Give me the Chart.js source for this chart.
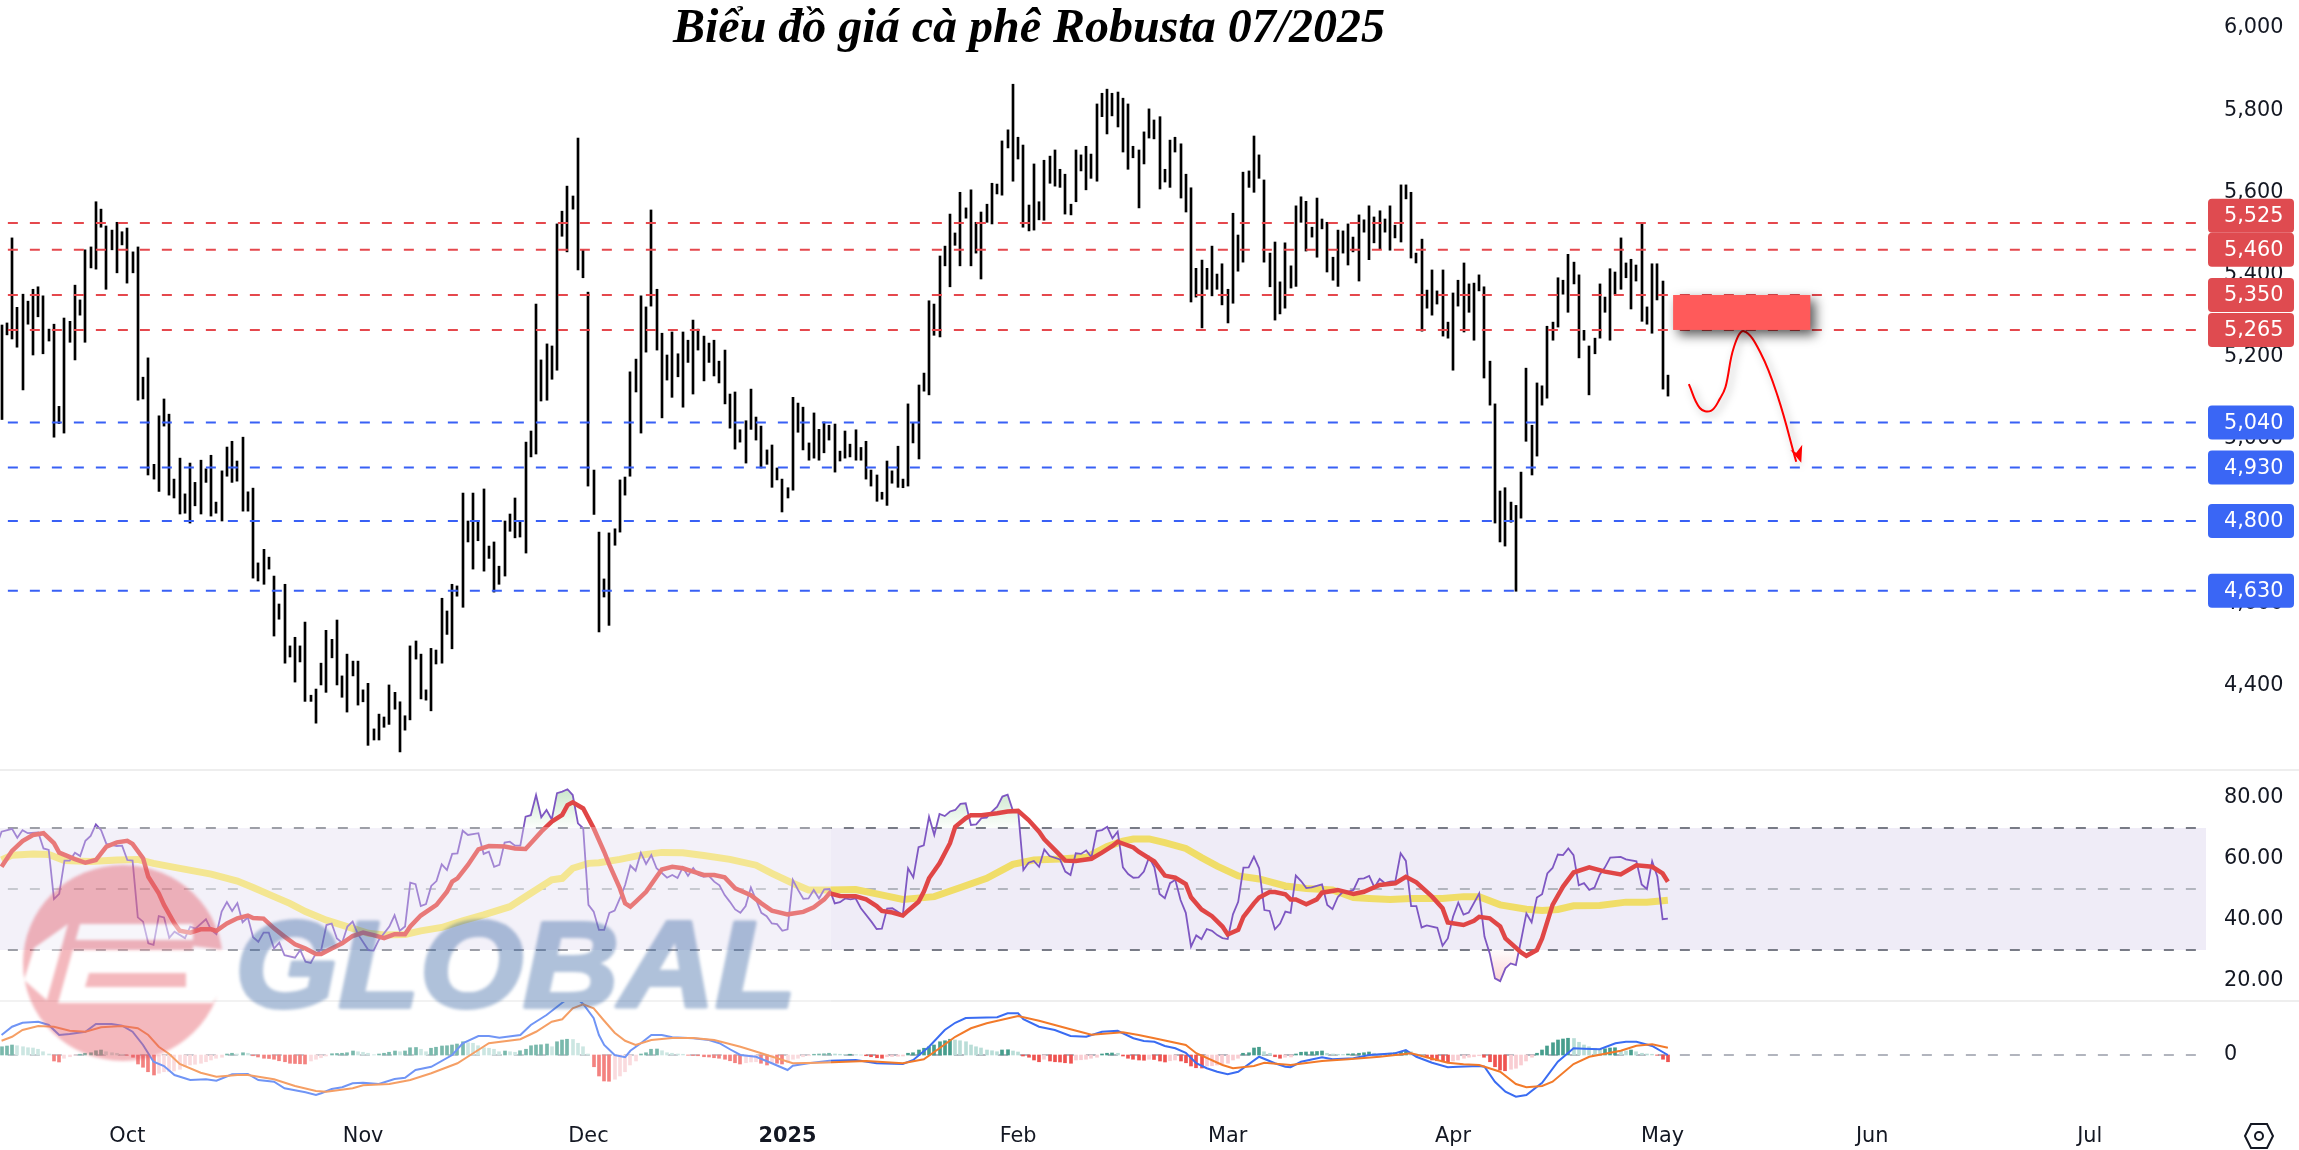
<!DOCTYPE html>
<html lang="vi">
<head>
<meta charset="utf-8">
<title>Biểu đồ giá cà phê Robusta 07/2025</title>
<script src="https://cdn.jsdelivr.net/npm/chart.js@4"></script>
<style>
  html, body { margin: 0; padding: 0; background: #fff; }
  canvas { display: block; }
</style>
</head>
<body>
<canvas id="chart" width="2299" height="1150"></canvas>
<script>
// ── Data ──────────────────────────────────────────────────────────────────────

const titleText = 'Biểu đồ giá cà phê Robusta 07/2025';

// one high/low pair per trading day, index 0 = left edge of the chart
const priceHigh = [
  5277,5282,5489,5320,5352,5335,5364,5370,5348,5267,5279,5079,5294,5286,5374,5338,5460,5467,5577,5559,
  5518,5508,5527,5504,5513,5455,5467,5150,5197,4938,5056,5097,5060,4902,4953,4866,4941,4894,4948,4927,
  4960,4846,4922,4980,4994,4946,5004,4871,4880,4698,4731,4712,4666,4598,4646,4496,4517,4496,4554,4376,
  4391,4454,4534,4512,4559,4423,4476,4459,4459,4389,4405,4294,4330,4323,4401,4383,4360,4326,4496,4508,
  4476,4389,4490,4486,4612,4581,4646,4642,4868,4800,4868,4797,4878,4739,4749,4690,4800,4817,4856,4800,
  4992,5019,5328,5192,5231,5226,5523,5554,5615,5591,5732,5459,5357,4924,4773,4659,4771,4781,4900,4907,
  5163,5194,5348,5321,5557,5364,5257,5204,5260,5207,5260,5240,5289,5267,5250,5233,5240,5189,5216,5109,
  5114,5022,5044,5121,5053,5031,4973,4985,4929,4902,4881,5101,5087,5077,4990,5063,5023,5041,5033,5036,
  4970,5019,4987,5022,4979,4994,4924,4912,4870,4946,4922,4982,4902,5085,5038,5131,5160,5336,5328,5445,
  5469,5547,5501,5600,5562,5606,5527,5552,5571,5622,5620,5725,5752,5863,5734,5715,5569,5669,5577,5678,
  5688,5703,5656,5644,5571,5703,5691,5712,5693,5815,5841,5851,5841,5844,5829,5815,5712,5703,5747,5803,
  5776,5784,5656,5727,5734,5718,5644,5611,5415,5435,5415,5469,5401,5426,5364,5549,5496,5649,5652,5737,
  5691,5630,5452,5479,5382,5477,5421,5567,5589,5578,5515,5586,5535,5527,5442,5508,5506,5523,5491,5545,
  5533,5567,5540,5555,5535,5567,5520,5618,5618,5600,5452,5486,5362,5411,5360,5411,5284,5355,5386,5428,
  5377,5379,5399,5370,5189,5085,4873,4881,4846,4838,4919,5172,5033,5136,5129,5274,5284,5392,5386,5449,
  5430,5399,5264,5226,5245,5377,5345,5414,5406,5489,5428,5437,5423,5525,5321,5426,5426,5384,5155,
];
const priceLow = [
  5047,5253,5243,5223,5119,5279,5204,5297,5207,5238,5004,5037,5014,5235,5192,5301,5235,5416,5413,5515,
  5364,5460,5404,5472,5379,5404,5094,5097,4912,4902,4872,5031,4863,4856,4817,4819,4795,4837,4817,4894,
  4812,4819,4800,4909,4894,4897,4824,4824,4661,4654,4646,4683,4520,4561,4454,4469,4408,4457,4361,4361,
  4308,4401,4383,4467,4401,4371,4335,4423,4352,4360,4254,4267,4267,4298,4305,4342,4238,4291,4316,4464,
  4367,4364,4338,4452,4454,4524,4489,4617,4590,4749,4683,4752,4678,4709,4627,4646,4666,4775,4759,4761,
  4722,4956,4963,5092,5094,5145,5167,5493,5455,5559,5411,5392,4885,4816,4530,4615,4546,4741,4773,4863,
  4909,5114,5014,5211,5323,5216,5051,5143,5101,5151,5077,5186,5109,5216,5141,5186,5153,5136,5085,5026,
  4975,4992,4941,5023,4997,4929,4938,4882,4900,4822,4856,4875,5016,4973,4948,4953,4948,4966,4997,4919,
  4946,4953,4956,4948,4948,4902,4885,4848,4853,4838,4892,4882,4881,4885,4990,4951,5116,5107,5252,5248,
  5421,5370,5471,5421,5537,5421,5452,5389,5527,5523,5596,5593,5708,5627,5681,5515,5506,5508,5533,5532,
  5622,5615,5612,5547,5545,5577,5652,5606,5634,5627,5784,5742,5786,5759,5698,5656,5684,5562,5669,5732,
  5730,5608,5625,5612,5698,5586,5552,5333,5345,5270,5364,5348,5364,5326,5282,5330,5408,5430,5612,5600,
  5634,5430,5370,5289,5304,5318,5367,5371,5527,5457,5491,5442,5511,5406,5386,5371,5452,5423,5455,5384,
  5503,5436,5477,5461,5503,5459,5489,5479,5584,5440,5428,5262,5318,5301,5328,5250,5245,5167,5323,5260,
  5308,5240,5360,5148,5082,4795,4749,4739,4797,4629,4807,4994,4912,4958,5082,5099,5240,5272,5352,5308,
  5377,5197,5240,5107,5207,5245,5308,5240,5352,5364,5392,5316,5384,5286,5279,5257,5338,5121,5104,
];

const priceTicks = [6000, 5800, 5600, 5400, 5200, 5000, 4800, 4600, 4400];
const redLevels  = [5265, 5350, 5460, 5525];
const blueLevels = [4630, 4800, 4930, 5040];

// sell zone and the drawn path below it: [bar index, price]
const zoneTop = 5350, zoneBottom = 5265;
const zoneFrom = 319, zoneTo = 345.2;
const forecastPath = [
  [322,5133],[324.1,5075],[326.2,5068],[328,5099],[329,5126],[330.6,5223],
  [332.5,5262],[335.7,5209],[339,5102],[342.5,4944],
];

// RSI pane: [bar index, value]
const rsiLine = [
  [-1,63.9],[0,68.8],[2,69.7],[3,66.8],[4,69.3],[5,68.3],[7,68.5],[8,63.3],[9,62.8],[10,46.7],[11,48.4],[12,59.3],[13,59.3],
  [14,61.9],[15,60.8],[16,65.8],[17,67.4],[18,71.2],[19,69.3],[20,64.8],[22,64.1],[23,64.2],[24,59.5],[25,59.3],[26,40.7],
  [27,39.3],[28,32.2],[29,31.7],[30,41.1],[31,40.7],[32,34.0],[33,36.0],[35,33.9],[36,37.7],[37,37.0],[39,40.1],[40,36.6],
  [41,35.2],[42,42.6],[43,45.7],[44,42.8],[45,45.4],[46,39.1],[47,40.7],[48,34.2],[49,32.7],[50,35.7],[51,35.7],[52,30.5],
  [53,32.4],[54,28.3],[56,27.5],[57,30],[58,26.2],[59,25.8],[60,28.9],[61,30],[62,38.2],[63,38.7],[64,33.8],[65,32.4],
  [66,37.7],[67,39.3],[68,35.2],[70,30],[71,29.8],[72,33.3],[74,37.7],[75,41.4],[76,36.3],[77,37.7],[78,52.1],[79,51.6],
  [80,44.4],[81,45.1],[82,51],[83,52.6],[84,58.1],[85,56.2],[86,61.5],[87,61.7],[88,69.1],[89,67.7],[91,68.3],[92,61.5],
  [93,62.2],[94,57.3],[95,57.9],[96,65.2],[97,65.5],[98,64.2],[99,64.2],[100,73.7],[101,74.2],[102,80.8],[103,73.5],
  [104,75.9],[105,72.8],[106,81.4],[107,81.9],[108,82.7],[109,80.8],[110,71.5],[111,69.9],[112,44.8],[113,42.6],[114,36.6],
  [115,36.6],[116,42.2],[117,42.9],[118,46.9],[119,51.3],[120,57.7],[121,56],[122,61.9],[123,58.2],[124,61.1],[125,56.8],
  [127,53.7],[128,54.6],[129,53.6],[130,57.1],[131,54.3],[132,56.9],[133,54.6],[134,54],[135,54.3],[136,52.4],[137,51.2],
  [138,48],[139,45.8],[140,43.3],[141,42.2],[142,44.4],[143,50.5],[144,46.4],[145,42.2],[146,41.1],[147,38.7],[148,38.5],
  [149,36.3],[150,36.8],[151,53],[152,49.7],[153,46.8],[154,46.9],[155,49.7],[156,46.9],[157,49.9],[158,50],[159,45.3],
  [160,45.7],[161,46.9],[162,46.6],[163,46.9],[164,43.7],[166,39.3],[167,36.9],[168,37],[169,43.6],[170,43.7],[172,41.5],
  [173,56.8],[174,53.8],[175,63.7],[176,64.3],[177,73.7],[178,67.7],[179,74.6],[180,73.9],[181,75.4],[182,75.9],[183,77.9],
  [184,78.1],[185,71],[186,71.2],[187,73.2],[188,73.4],[189,75.4],[190,77],[191,80.3],[192,80.9],[193,75.7],[194,75.7],
  [195,56.2],[196,58.6],[197,59.2],[198,57.3],[199,63],[200,60.8],[202,59.7],[203,55.7],[204,54.6],[205,61.7],[206,61.5],
  [207,62.6],[208,60.4],[209,69],[210,69.3],[211,70.4],[212,66.6],[213,68.8],[214,57.1],[215,54.9],[216,53.7],[217,53.8],
  [218,55.7],[219,60.4],[220,57.1],[221,48.4],[222,47],[223,51.9],[224,53],[225,46.4],[226,42.2],[227,31.1],[228,34.8],
  [229,33.6],[230,36.9],[231,36.3],[232,34.9],[233,33.9],[234,33.6],[235,41.7],[236,45.8],[237,57],[238,57.1],[239,60.6],
  [240,56.8],[241,43.1],[242,42.8],[243,36.8],[244,38.7],[245,42.6],[246,42.2],[247,54.4],[248,52.6],[249,50.3],[250,50.5],
  [252,51.5],[253,44.8],[254,43.4],[255,47.3],[256,49.1],[257,49.1],[258,49.7],[259,53.3],[260,53.5],[261,54.3],[262,50.5],
  [263,53.3],[264,51.9],[265,52.4],[266,52.6],[267,61.7],[268,59.2],[269,44.4],[270,44.4],[271,37.4],[272,38.1],[273,37.7],
  [274,37.3],[275,31.4],[276,33.8],[277,40.9],[278,45.5],[279,41.6],[280,42.3],[282,48.6],[283,34.4],[284,28.9],[285,20.7],
  [286,19.8],[287,24],[288,25.6],[289,25.1],[290,33.3],[291,42],[292,39.1],[293,47.2],[294,48.3],[295,55.1],[296,56.9],
  [297,61.3],[298,61.1],[299,63.3],[300,61.1],[301,51.2],[302,51.9],[303,49.7],[304,50.5],[305,54.7],[306,57.1],[307,60.3],
  [309,60.5],[310,59.7],[312,59.1],[313,51.5],[314,50],[315,59.1],[316,54],[317,40.1],[318,40.3],
];
const rsiSignal = [
  [0,57.3],[2,62.5],[4,65.7],[6,67.7],[8,68.3],[10,65],[11,61.9],[14,59.8],[16,58.6],[18,59.5],[20,63.9],[22,65.3],[24,65.8],
  [25,64.8],[27,60.1],[28,54],[30,48.6],[31,44.8],[33,38.7],[34,36.3],[36,35.7],[38,36.8],[40,36.8],[41,36.3],[43,38.7],
  [45,40.4],[47,41.3],[48,40.5],[50,40.3],[52,37.1],[54,34.4],[56,31.9],[58,30.5],[60,28.7],[61,28.7],[63,30.5],[65,32.2],
  [67,34.6],[69,35.7],[71,34.9],[73,33.9],[75,35.2],[77,35.2],[78,37.7],[80,41.3],[83,44.8],[85,49.1],[86,52.4],[87,53.5],
  [89,57.9],[91,63],[93,64.1],[96,63.9],[98,63.3],[100,63.1],[101,65],[103,68.8],[105,72.1],[107,74.3],[108,77.5],[109,78.4],
  [111,76.4],[113,69.9],[115,62.2],[116,57.9],[118,50.2],[119,45.3],[120,44.2],[121,45.8],[123,49.1],[125,54],[126,56.4],
  [128,57.3],[130,56.8],[132,55.7],[134,54.6],[136,54.6],[138,53.8],[140,50.2],[143,48],[145,45.3],[147,42.9],[150,41.7],
  [153,42.5],[155,44],[157,46.6],[158,48.6],[160,47.7],[163,47.6],[165,46.6],[167,44.4],[168,42.8],[170,42.3],[172,41.3],
  [173,42.9],[175,45.8],[176,49.1],[177,53.5],[179,58.4],[181,65],[182,70.4],[184,73.2],[185,74.2],[187,74.2],[190,74.8],
  [192,75.4],[194,75.6],[196,72.6],[198,68.8],[199,66.3],[201,62.8],[203,59.3],[205,59.2],[208,59.9],[210,61.9],[212,64.1],
  [213,65.5],[216,63.6],[217,62.2],[220,59],[222,54.4],[224,53.7],[226,51.6],[227,47.3],[229,43.3],[231,41.1],[233,37.7],
  [234,35.1],[236,36.6],[237,40.9],[239,45.3],[240,47.2],[242,49],[243,49],[245,48.3],[246,46.6],[247,46.6],[249,45],
  [251,46.6],[252,48.8],[255,49.7],[258,48.4],[260,49.1],[263,51.3],[266,51.9],[268,54],[270,52.2],[273,47.5],[275,43.7],
  [276,39],[279,38.2],[281,39.6],[282,40.9],[284,40.4],[286,37.7],[287,33.8],[290,29.2],[291,28.1],[293,30],[294,33.8],
  [296,44.8],[298,50.8],[300,55.4],[303,57.1],[306,55.7],[309,54.8],[312,57.8],[315,57.3],[317,55.1],[318,52.4],
];
const rsiSlow = [
  [0,59.5],[2,61.1],[6,61.5],[9,61.3],[12,59.3],[17,59],[22,59.5],[26,59.7],[29,58.4],[33,57.1],[40,54.9],[45,52.6],[48,50.5],
  [52,47.5],[55,45.3],[58,42.6],[62,39.8],[67,37.1],[70,35.5],[73,34.9],[77,35.1],[80,36.3],[84,37.4],[88,39.6],[92,41.5],
  [97,44.2],[101,48.6],[105,53],[107,53.5],[109,56.8],[112,58.4],[114,58.6],[118,59.7],[122,61.1],[126,62],[130,61.9],[134,61],
  [139,59.7],[144,57.8],[147,55.1],[151,51.9],[154,49.7],[158,49.7],[163,49.8],[167,48.4],[172,46.6],[178,47.5],[183,50.5],
  [188,53.5],[193,58.1],[197,59.5],[202,59.8],[207,60.4],[211,63.9],[214,65.7],[216,66.4],[219,66.4],[222,65.2],[226,63.3],
  [229,60.3],[232,57.5],[236,54.3],[240,53.3],[245,51],[249,50.2],[254,49.7],[258,47.2],[261,46.9],[265,46.6],[269,46.9],
  [275,46.9],[279,47.5],[282,47.5],[286,44.8],[291,43.4],[294,43],[297,43.3],[300,44.5],[305,44.6],[310,45.7],[314,45.7],[318,46.3],
];
const rsiLevels = [70, 50, 30];
const rsiTicks  = [80, 60, 40, 20];

// MACD pane: [bar index, value]
const macdLine = [
  [0,80],[2,113],[4,129],[7,133],[9,120],[11,80],[13,84],[16,93],[18,124],[21,124],[23,117],[25,93],[27,40],[29,-27],[31,-44],
  [33,-80],[36,-100],[39,-97],[41,-103],[44,-77],[47,-76],[49,-100],[52,-107],[54,-133],[58,-149],[60,-160],[61,-153],[63,-136],
  [65,-129],[67,-113],[69,-111],[72,-116],[75,-96],[77,-91],[79,-60],[82,-47],[86,0],[88,47],[91,76],[93,76],[95,69],[99,80],
  [101,120],[104,160],[107,209],[109,240],[111,204],[113,147],[114,80],[115,40],[117,0],[119,-9],[120,17],[122,47],[124,80],
  [126,80],[128,71],[132,67],[135,60],[137,47],[139,23],[141,0],[144,-7],[147,-33],[150,-60],[151,-43],[154,-33],[158,-23],
  [163,-20],[167,-33],[172,-36],[174,-20],[177,33],[180,100],[182,129],[184,148],[190,151],[192,167],[194,167],[195,143],
  [198,113],[201,100],[204,76],[207,73],[210,93],[213,97],[216,67],[218,56],[220,53],[222,36],[224,27],[226,9],[228,-33],
  [230,-53],[232,-67],[234,-77],[236,-67],[240,-7],[243,-33],[245,-47],[246,-49],[248,-27],[252,-9],[254,-17],[258,-13],[261,0],
  [266,7],[268,20],[270,-7],[273,-31],[276,-49],[278,-47],[282,-44],[283,-47],[285,-107],[287,-147],[289,-167],[291,-160],
  [294,-111],[297,-27],[300,27],[302,25],[305,23],[308,47],[310,53],[312,53],[315,36],[318,0],
];
const macdSignal = [
  [0,57],[2,73],[4,100],[7,116],[10,113],[13,97],[16,93],[19,111],[23,116],[26,107],[28,80],[30,33],[32,4],[34,-36],[38,-71],
  [41,-87],[45,-80],[47,-80],[52,-97],[56,-124],[60,-144],[62,-147],[67,-133],[69,-121],[74,-116],[78,-100],[82,-73],[87,-33],
  [90,7],[93,47],[99,63],[102,93],[105,133],[107,143],[109,187],[111,203],[113,187],[115,137],[117,89],[119,57],[121,40],[124,60],
  [128,68],[132,68],[136,60],[141,33],[145,7],[151,-33],[156,-31],[165,-24],[172,-33],[176,-17],[179,27],[182,73],[185,107],
  [188,127],[194,156],[198,137],[204,103],[208,81],[214,91],[217,80],[220,67],[226,40],[228,7],[233,-40],[235,-53],[239,-44],
  [241,-31],[246,-40],[252,-24],[257,-17],[263,-7],[269,7],[276,-31],[279,-37],[282,-40],[286,-67],[289,-116],[291,-129],[294,-124],
  [296,-107],[300,-36],[303,-7],[309,17],[312,37],[315,43],[318,29],
];
// one histogram value per bar
const macdHist = [
  33,36,40,37,33,29,28,23,13,4,-24,-28,-13,-7,-1,3,7,9,17,20,13,9,7,3,-1,-9,-36,-49,-67,-80,
  -73,-67,-66,-64,-57,-47,-40,-37,-33,-27,-20,-13,-9,4,7,4,9,7,-3,-8,-13,-14,-17,-23,-27,-33,-34,-35,-36,-24,
  -17,-11,-4,5,6,7,9,16,13,11,7,1,4,7,11,16,13,16,29,30,23,13,27,31,36,37,40,44,53,49,
  47,37,29,27,23,13,16,13,11,17,23,37,40,41,44,33,53,60,63,62,47,33,4,-47,-84,-104,-105,-97,-84,-67,
  -40,-24,4,9,23,24,17,9,7,4,3,-1,-2,-3,-7,-8,-11,-13,-17,-23,-31,-36,-31,-28,-27,-33,-40,-31,-33,-36,
  -31,-17,-13,-7,-3,3,4,5,7,4,3,2,3,1,0,-3,-7,-11,-13,-7,-6,-5,-4,7,9,20,27,33,40,53,
  57,63,60,57,53,40,33,28,20,17,13,20,21,16,12,-4,-9,-20,-27,-17,-24,-27,-28,-31,-33,-20,-19,-17,-13,-9,
  4,7,8,7,-4,-13,-17,-20,-21,-17,-18,-24,-28,-23,-20,-24,-31,-44,-51,-52,-44,-43,-40,-36,-33,-20,-13,7,9,28,
  31,13,7,-7,-13,-9,-8,4,11,12,13,14,16,7,4,3,2,4,5,7,9,12,7,4,3,7,9,13,17,13,
  4,0,-11,-20,-23,-27,-29,-24,-20,-13,-9,-7,-3,-9,-27,-47,-60,-63,-57,-53,-40,-24,-9,7,20,36,49,60,64,67,
  66,51,40,33,27,23,25,28,29,17,16,20,13,7,4,3,-1,-17,-27,
];

// x axis: bar index of each month label
const monthLabels = ['Oct', 'Nov', 'Dec', '2025', 'Feb', 'Mar', 'Apr', 'May', 'Jun', 'Jul'];
const monthTicks  = [24, 69, 112, 150, 194, 234, 277, 317, 357, 398.5];

// ── Palette and pane settings ─────────────────────────────────────────────────

const COLORS = {
  ink:     '#131722',
  red:     '#e5484d',
  redBox:  '#df4b50',
  blue:    '#3860f5',
  blueBox: '#3a66f5',
  zone:    '#ff5a5a',
  purple:  '#7e57c2',
  signal:  '#e04646',
  yellow:  '#f0dd68',
  macd:    '#3a6cf2',
  orange:  '#f27a2a',
  band:    '#efecf7',
  guide:   '#787b86',
  guide2:  '#b2b5be',
  up:      '#479e8d',
  upFade:  '#b9ddd7',
  down:    '#ef5350',
  downFade:'#f9cdd2',
  sep:     '#eeeeee',
};

const FONT = '"DejaVu Sans", sans-serif';
const FONT_SIZE = 20.8;
const DASH = [10, 12];
const LINE_FROM = 1.2, LINE_TO = 419;    // dashed levels start and stop here

const toXY = pts => pts.map(([x, y]) => ({ x, y }));
const levelLine = v => [{ x: LINE_FROM, y: v }, { x: LINE_TO, y: v }];
const fmtPrice = v => v.toLocaleString('en-US');

function histColor(ctx) {
  const i = ctx.dataIndex;
  const v = macdHist[i], prev = i ? macdHist[i - 1] : v;
  if (v >= 0) return v >= prev ? COLORS.up : COLORS.upFade;
  return v <= prev ? COLORS.down : COLORS.downFade;
}

// ── Plugin: everything that sits on top of the panes ──────────────────────────

function drawPriceBox(ctx, y, value, color) {
  ctx.fillStyle = color;
  ctx.beginPath();
  ctx.roundRect(2208, y - 17, 86, 34, 4);
  ctx.fill();
  ctx.fillStyle = '#fff';
  ctx.font = `${FONT_SIZE}px ${FONT}`;
  ctx.textAlign = 'left';
  ctx.textBaseline = 'middle';
  ctx.fillText(fmtPrice(value), 2224, y + 1);
}

function polygon(ctx, pts, color) {
  ctx.fillStyle = color;
  ctx.beginPath();
  pts.forEach(([x, y], i) => (i ? ctx.lineTo(x, y) : ctx.moveTo(x, y)));
  ctx.closePath();
  ctx.fill();
}

// logo is painted on its own layer, so overlaps do not darken, then faded in
function drawWatermark(ctx) {
  const layer = document.createElement('canvas');
  layer.width = 900;
  layer.height = 1150;
  const g = layer.getContext('2d');
  const PINK = '#e23e4e';

  g.fillStyle = PINK;
  g.beginPath();
  g.ellipse(123, 963, 100, 98, 0, 0, Math.PI * 2);
  g.fill();

  // white letter block, then the pink strokes that cut it into "EB"
  polygon(g, [[24,980],[34,948],[68,924],[193,924],[193,946],[224,950],[224,985],[213,1003],[50,1003]], '#fff');
  polygon(g, [[66,940],[193,940],[193,950],[64,950]], PINK);
  polygon(g, [[89,973],[186,973],[186,987],[85,987]], PINK);
  polygon(g, [[68,924],[80,924],[58,1003],[46,1003]], PINK);

  const name = 'GLOBAL';
  g.font = 'italic bold 122px "Liberation Sans", sans-serif';
  g.textBaseline = 'alphabetic';
  g.save();
  g.translate(235, 1007);
  g.scale(1.09, 1);
  g.fillStyle = '#28589c';
  g.strokeStyle = '#28589c';
  g.lineWidth = 4;
  g.lineJoin = 'round';
  g.strokeText(name, 0, 0);
  g.fillText(name, 0, 0);
  g.restore();

  ctx.save();
  // the logo image carries a faint white backdrop over the lower panes
  ctx.fillStyle = 'rgba(255,255,255,0.28)';
  ctx.fillRect(0, 827, 831, 285);
  ctx.globalAlpha = 0.37;
  ctx.filter = 'blur(1.5px)';
  ctx.drawImage(layer, 0, 0);
  ctx.restore();
}

const overlayPlugin = {
  id: 'overlay',
  // snap price and histogram bars to whole pixels so they stay crisp
  afterDatasetsUpdate(chart) {
    chart.getSortedVisibleDatasetMetas().forEach(meta => {
      if (meta.type === 'bar') meta.data.forEach(el => { el.x = Math.round(el.x); });
    });
  },
  beforeDatasetDraw(chart, args) {
    if (chart.data.datasets[args.index].label === 'forecast') {
      const c = chart.ctx;
      c.save();
      c.shadowColor = 'rgba(0,0,0,0.35)';
      c.shadowBlur = 8;
      c.shadowOffsetX = 3;
      c.shadowOffsetY = 3;
    }
  },
  afterDatasetDraw(chart, args) {
    if (chart.data.datasets[args.index].label === 'forecast') chart.ctx.restore();
  },
  afterDraw(chart) {
    const { ctx, scales } = chart;
    const { x, yPrice, yRsi } = scales;

    // pane separators
    ctx.fillStyle = COLORS.sep;
    ctx.fillRect(0, yPrice.bottom - 1, chart.width, 2);
    ctx.fillRect(0, yRsi.bottom - 1, chart.width, 2);

    drawWatermark(ctx);

    // sell zone
    ctx.save();
    ctx.shadowColor = 'rgba(0,0,0,0.65)';
    ctx.shadowBlur = 12;
    ctx.shadowOffsetX = 5;
    ctx.shadowOffsetY = 5;
    ctx.fillStyle = COLORS.zone;
    const zy = yPrice.getPixelForValue(zoneTop);
    ctx.fillRect(x.getPixelForValue(zoneFrom), zy,
      x.getPixelForValue(zoneTo) - x.getPixelForValue(zoneFrom),
      yPrice.getPixelForValue(zoneBottom) - zy);
    ctx.restore();

    // arrow head at the end of the forecast path
    const [ax, ap] = forecastPath[forecastPath.length - 1];
    const tipX = x.getPixelForValue(ax) + 5, tipY = yPrice.getPixelForValue(ap) + 1;
    polygon(ctx, [
      [tipX, tipY], [tipX - 11, tipY - 13], [tipX - 5, tipY - 10], [tipX + 1, tipY - 18],
    ], '#ff0000');

    // price tags, pushed apart when two would overlap
    [[redLevels, COLORS.redBox], [blueLevels, COLORS.blueBox]].forEach(([levels, color]) => {
      let top = Infinity;
      levels.forEach(v => {
        let y = yPrice.getPixelForValue(v);
        if (y + 17 > top) y = top - 17;
        drawPriceBox(ctx, y, v, color);
        top = y - 17;
      });
    });

    // title
    ctx.fillStyle = '#000';
    ctx.font = 'italic bold 48px "Liberation Serif", serif';
    ctx.textAlign = 'center';
    ctx.textBaseline = 'middle';
    ctx.fillText(titleText, 1029, 30);

    // settings hexagon in the corner
    const hx = 2259, hy = 1136;
    ctx.strokeStyle = COLORS.ink;
    ctx.lineWidth = 2;
    ctx.beginPath();
    ctx.moveTo(hx - 14, hy);
    ctx.lineTo(hx - 8, hy - 12);
    ctx.lineTo(hx + 8, hy - 12);
    ctx.lineTo(hx + 14, hy);
    ctx.lineTo(hx + 8, hy + 12);
    ctx.lineTo(hx - 8, hy + 12);
    ctx.closePath();
    ctx.stroke();
    ctx.beginPath();
    ctx.arc(hx, hy, 4, 0, Math.PI * 2);
    ctx.stroke();
  },
};

// ── Chart ─────────────────────────────────────────────────────────────────────

const AXIS_W = 93, AXIS_H = 30;
// no margins for label overhang: the panes run edge to edge
const noMargins = s => { s.paddingLeft = s.paddingRight = s.paddingTop = s.paddingBottom = 0; };
const fitRight = s => { s.width = AXIS_W; noMargins(s); };
const rightAxis = (min, max, weight, ticks, fmt) => ({
  type: 'linear',
  position: 'right',
  stack: 'panes',
  stackWeight: weight,
  min, max,
  grid: { display: false, drawTicks: false },
  border: { display: false },
  afterBuildTicks: s => { s.ticks = ticks.map(value => ({ value })); },
  afterFit: fitRight,
  ticks: {
    color: COLORS.ink,
    padding: 18,
    autoSkip: false,
    font: { family: FONT, size: FONT_SIZE },
    callback: fmt,
  },
});

const RSI_MIN = 13.3, RSI_MAX = 89;
const canvas = document.getElementById('chart');
const c2d = canvas.getContext('2d');
const rsiY = v => 770 + (RSI_MAX - v) / (RSI_MAX - RSI_MIN) * 231;
const greenFade = c2d.createLinearGradient(0, rsiY(82), 0, rsiY(70));
greenFade.addColorStop(0, 'rgba(76,175,80,0.28)');
greenFade.addColorStop(1, 'rgba(76,175,80,0.02)');
const redFade = c2d.createLinearGradient(0, rsiY(30), 0, rsiY(20));
redFade.addColorStop(0, 'rgba(240,80,80,0.02)');
redFade.addColorStop(1, 'rgba(240,80,80,0.24)');

const lineStyle = (color, width, order) => ({
  type: 'line',
  borderColor: color,
  borderWidth: width,
  pointRadius: 0,
  tension: 0,
  fill: false,
  xAxisID: 'x',
  order,
});
const level = (v, yAxisID, color, order) => ({
  ...lineStyle(color, 2, order),
  data: levelLine(v),
  yAxisID,
  borderDash: DASH,
});

new Chart(canvas, {
  data: {
    datasets: [
      // price pane
      {
        type: 'bar',
        label: 'price',
        data: priceHigh.map((h, i) => ({ x: i, y: [priceLow[i], h] })),
        backgroundColor: '#000',
        barThickness: 2,
        grouped: false,
        xAxisID: 'x',
        yAxisID: 'yPrice',
        order: 5,
      },
      ...redLevels.map(v => level(v, 'yPrice', COLORS.red, 4)),
      ...blueLevels.map(v => level(v, 'yPrice', COLORS.blue, 4)),
      {
        ...lineStyle('#ff0000', 2, 1),
        label: 'forecast',
        data: toXY(forecastPath),
        yAxisID: 'yPrice',
        tension: 0.4,
      },

      // RSI pane: band first, then levels and lines
      {
        ...lineStyle('transparent', 0, 30),
        data: [{ x: -1, y: rsiLevels[0] }, { x: 421, y: rsiLevels[0] }],
        yAxisID: 'yRsi',
        backgroundColor: COLORS.band,
        fill: '+1',
      },
      {
        ...lineStyle('transparent', 0, 29),
        data: [{ x: -1, y: rsiLevels[2] }, { x: 421, y: rsiLevels[2] }],
        yAxisID: 'yRsi',
      },
      level(rsiLevels[0], 'yRsi', COLORS.guide, 28),
      level(rsiLevels[1], 'yRsi', COLORS.guide2, 28),
      level(rsiLevels[2], 'yRsi', COLORS.guide, 28),
      { ...lineStyle(COLORS.yellow, 7, 22), data: toXY(rsiSlow), yAxisID: 'yRsi' },
      {
        ...lineStyle(COLORS.purple, 1.8, 21),
        data: toXY(rsiLine),
        yAxisID: 'yRsi',
        fill: { target: { value: rsiLevels[0] }, above: greenFade, below: 'transparent' },
      },
      {
        ...lineStyle('transparent', 0, 21),
        data: toXY(rsiLine),
        yAxisID: 'yRsi',
        fill: { target: { value: rsiLevels[2] }, above: 'transparent', below: redFade },
      },
      { ...lineStyle(COLORS.signal, 4.5, 20), data: toXY(rsiSignal), yAxisID: 'yRsi' },

      // MACD pane
      level(0, 'yMacd', COLORS.guide2, 19),
      {
        type: 'bar',
        label: 'hist',
        data: macdHist.map((y, x) => ({ x, y })),
        backgroundColor: histColor,
        barThickness: 3,
        grouped: false,
        xAxisID: 'x',
        yAxisID: 'yMacd',
        order: 18,
      },
      { ...lineStyle(COLORS.macd, 2, 17), data: toXY(macdLine), yAxisID: 'yMacd' },
      { ...lineStyle(COLORS.orange, 2, 16), data: toXY(macdSignal), yAxisID: 'yMacd' },
    ],
  },
  plugins: [overlayPlugin],
  options: {
    responsive: false,
    animation: false,
    devicePixelRatio: 1,
    layout: { padding: 0 },
    events: [],
    plugins: { legend: { display: false }, tooltip: { enabled: false }, title: { display: false } },
    scales: {
      x: {
        type: 'linear',
        position: 'bottom',
        offset: false,
        min: -0.3,
        max: 420.7,
        grid: { display: false, drawTicks: false },
        border: { display: false },
        afterBuildTicks: s => { s.ticks = monthTicks.map(value => ({ value })); },
        afterFit: s => { s.height = AXIS_H; noMargins(s); },
        ticks: {
          color: COLORS.ink,
          padding: 4,
          autoSkip: false,
          maxRotation: 0,
          font: c => ({ family: FONT, size: FONT_SIZE, weight: monthTicks[c.index] === 150 ? 'bold' : 'normal' }),
          callback: (v, i) => monthLabels[i],
        },
      },
      yPrice: rightAxis(4194, 6068, 770, priceTicks, v => fmtPrice(v)),
      yRsi:   rightAxis(RSI_MIN, RSI_MAX, 231, rsiTicks, v => v.toFixed(2)),
      yMacd:  rightAxis(-260, 216, 119, [0], v => String(v)),
    },
  },
});
</script>
</body>
</html>
